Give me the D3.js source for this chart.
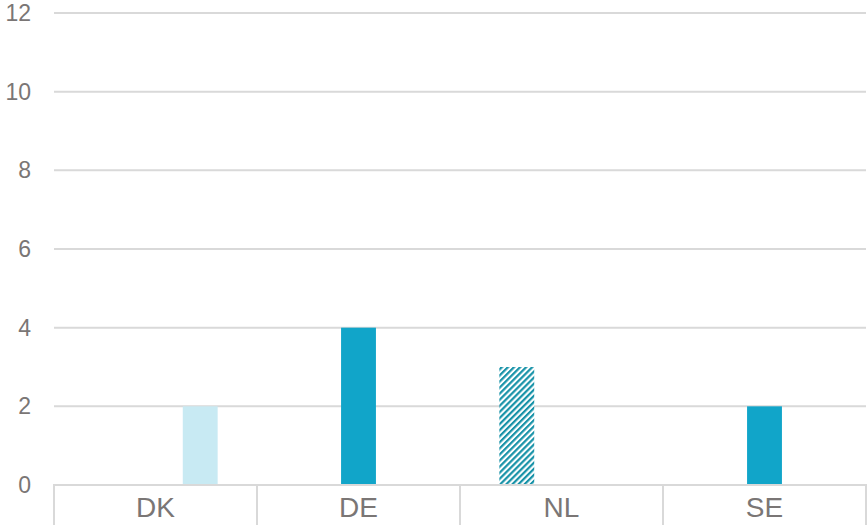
<!DOCTYPE html>
<html>
<head>
<meta charset="utf-8">
<script src="https://cdn.jsdelivr.net/npm/d3@7"></script>
<style>
  html, body { margin: 0; padding: 0; background: #fff; }
  svg { display: block; }
</style>
</head>
<body>
<svg id="chart" width="868" height="525"></svg>
<script>
// Countries along the category axis
const categories = ["DK", "DE", "NL", "SE"];
// Three series per country (hatched, solid, light)
const seriesNames = ["planned", "built", "proposed"];
const plannedValues = [0, 0, 3, 0];
const builtValues = [0, 4, 0, 2];
const proposedValues = [2, 0, 0, 0];
const yTicks = [0, 2, 4, 6, 8, 10, 12];

const seriesValues = [plannedValues, builtValues, proposedValues];
const rows = categories.map((c, i) => ({
  category: c,
  values: seriesNames.map((s, j) => ({ series: s, value: seriesValues[j][i] }))
}));

const width = 868, height = 525;
const margin = { top: 13, right: 2, bottom: 40, left: 54 };

const svg = d3.select("#chart");

const x0 = d3.scaleBand()
  .domain(categories)
  .range([margin.left, width - margin.right])
  .paddingInner(0)
  .paddingOuter(0);

const x1 = d3.scaleBand()
  .domain(seriesNames)
  .range([0, x0.bandwidth()])
  .paddingInner(0.22)
  .paddingOuter(0.88);

const y = d3.scaleLinear()
  .domain([0, 12])
  .range([height - margin.bottom, margin.top]);

const fills = {
  planned: "url(#hatch)",
  built: "#11a5c9",
  proposed: "#c8eaf3"
};

// Diagonal hatch pattern for the first series
const defs = svg.append("defs");
const pat = defs.append("pattern")
  .attr("id", "hatch")
  .attr("patternUnits", "userSpaceOnUse")
  .attr("width", 4.3)
  .attr("height", 4.3)
  .attr("patternTransform", "rotate(45)");
pat.append("rect")
  .attr("width", 4.3).attr("height", 4.3).attr("fill", "#ffffff");
pat.append("rect")
  .attr("width", 2.2).attr("height", 4.3).attr("fill", "#1792a8");

// Horizontal gridlines
svg.append("g")
  .attr("class", "grid")
  .selectAll("line")
  .data(yTicks.filter(t => t !== 0))
  .join("line")
  .attr("x1", margin.left)
  .attr("x2", width - margin.right)
  .attr("y1", d => y(d))
  .attr("y2", d => y(d))
  .attr("stroke", "#d9d9d9")
  .attr("stroke-width", 2);

// Value axis labels
const yAxis = svg.append("g")
  .attr("transform", `translate(31,0)`)
  .call(d3.axisLeft(y).tickValues(yTicks).tickSize(0).tickPadding(0));
yAxis.select(".domain").remove();
yAxis.selectAll("text")
  .attr("font-family", "Liberation Sans, Arial, sans-serif")
  .attr("font-size", 23)
  .attr("fill", "#7a7675");

// Bars
svg.append("g")
  .selectAll("g")
  .data(rows)
  .join("g")
  .attr("transform", d => `translate(${x0(d.category)},0)`)
  .selectAll("rect")
  .data(d => d.values.filter(v => v.value > 0))
  .join("rect")
  .attr("x", d => x1(d.series))
  .attr("width", x1.bandwidth())
  .attr("y", d => y(d.value))
  .attr("height", d => y(0) - y(d.value))
  .attr("fill", d => fills[d.series]);

// Category axis with boundary ticks
const xAxis = svg.append("g")
  .attr("transform", `translate(0,${y(0)})`);
xAxis.append("line")
  .attr("x1", margin.left - 1)
  .attr("x2", width - margin.right + 1)
  .attr("stroke", "#d9d9d9")
  .attr("stroke-width", 2);
const bounds = categories.map(c => x0(c)).concat([x0.range()[1]]);
xAxis.selectAll("line.tick")
  .data(bounds)
  .join("line")
  .attr("class", "tick")
  .attr("x1", d => d)
  .attr("x2", d => d)
  .attr("y1", 0)
  .attr("y2", margin.bottom)
  .attr("stroke", "#d9d9d9")
  .attr("stroke-width", 2);
xAxis.selectAll("text")
  .data(categories)
  .join("text")
  .attr("x", d => x0(d) + x0.bandwidth() / 2)
  .attr("y", 32)
  .attr("text-anchor", "middle")
  .attr("font-family", "Liberation Sans, Arial, sans-serif")
  .attr("font-size", 28)
  .attr("fill", "#7a7675")
  .text(d => d);
</script>
</body>
</html>
